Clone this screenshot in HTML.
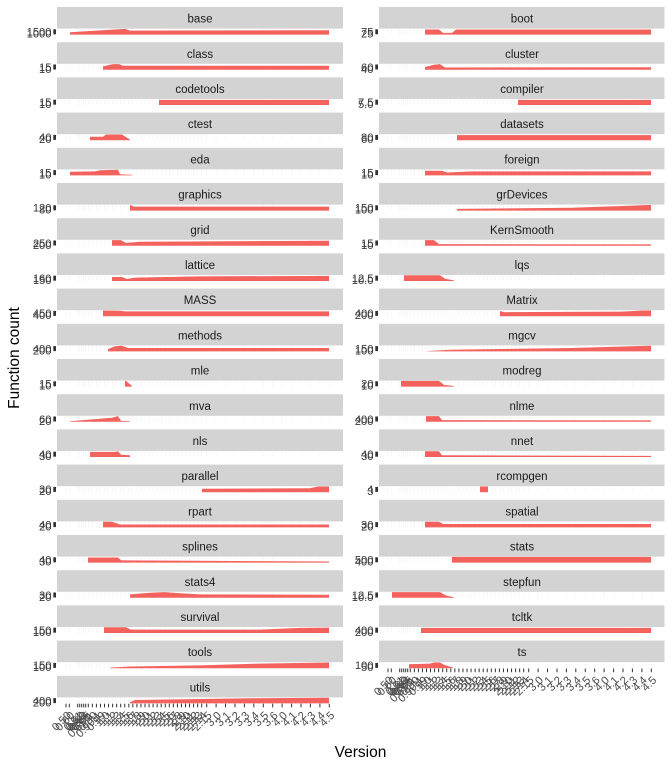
<!DOCTYPE html>
<html><head><meta charset="utf-8"><style>
html,body{margin:0;padding:0;background:#fff}
svg{display:block}
text{font-family:"Liberation Sans",Arial,sans-serif}
.s{fill:#D3D3D3}
.st{font-size:11.5px;fill:#1A1A1A;text-anchor:middle}
.yl{font-size:11.2px;fill:#3A3A3A;text-anchor:end}
.xl{font-size:11.2px;fill:#4D4D4D;text-anchor:end}
.a{fill:#F3625D}
.tk{fill:#333}
.gl{stroke:#F3F3F3;stroke-width:0.6;fill:none}
.xt{stroke:#333;stroke-width:1;fill:none}
.ti{font-size:15.5px;fill:#000}
</style></head><body>
<svg width="672" height="768" viewBox="0 0 672 768" xmlns="http://www.w3.org/2000/svg">
<defs>
<path id="gl" class="gl" d="M66 21.6v6.3M69.3 21.6v6.3M77.7 21.6v6.3M79.7 21.6v6.3M81.7 21.6v6.3M83.7 21.6v6.3M85.7 21.6v6.3M88.3 21.6v6.3M92.35 21.6v6.3M96.4 21.6v6.3M100.45 21.6v6.3M104.5 21.6v6.3M108.55 21.6v6.3M112.6 21.6v6.3M116.65 21.6v6.3M120.7 21.6v6.3M124.75 21.6v6.3M128.8 21.6v6.3M132.85 21.6v6.3M136.9 21.6v6.3M140.95 21.6v6.3M145 21.6v6.3M149.05 21.6v6.3M153.1 21.6v6.3M157.15 21.6v6.3M161.2 21.6v6.3M165.25 21.6v6.3M169.3 21.6v6.3M173.35 21.6v6.3M177.4 21.6v6.3M181.45 21.6v6.3M185.5 21.6v6.3M189.55 21.6v6.3M193.6 21.6v6.3M197.65 21.6v6.3M201.7 21.6v6.3M206.7 21.6v6.3M216.1 21.6v6.3M225.5 21.6v6.3M235 21.6v6.3M244.4 21.6v6.3M253.8 21.6v6.3M263.3 21.6v6.3M272.7 21.6v6.3M282.1 21.6v6.3M291.6 21.6v6.3M301 21.6v6.3M310.4 21.6v6.3M319.9 21.6v6.3M329.3 21.6v6.3"/>
<path id="xt" class="xt" d="M66 27.9v3.7M69.3 27.9v3.7M77.7 27.9v3.7M79.7 27.9v3.7M81.7 27.9v3.7M83.7 27.9v3.7M85.7 27.9v3.7M88.3 27.9v3.7M92.35 27.9v3.7M96.4 27.9v3.7M100.45 27.9v3.7M104.5 27.9v3.7M108.55 27.9v3.7M112.6 27.9v3.7M116.65 27.9v3.7M120.7 27.9v3.7M124.75 27.9v3.7M128.8 27.9v3.7M132.85 27.9v3.7M136.9 27.9v3.7M140.95 27.9v3.7M145 27.9v3.7M149.05 27.9v3.7M153.1 27.9v3.7M157.15 27.9v3.7M161.2 27.9v3.7M165.25 27.9v3.7M169.3 27.9v3.7M173.35 27.9v3.7M177.4 27.9v3.7M181.45 27.9v3.7M185.5 27.9v3.7M189.55 27.9v3.7M193.6 27.9v3.7M197.65 27.9v3.7M201.7 27.9v3.7M206.7 27.9v3.7M216.1 27.9v3.7M225.5 27.9v3.7M235 27.9v3.7M244.4 27.9v3.7M253.8 27.9v3.7M263.3 27.9v3.7M272.7 27.9v3.7M282.1 27.9v3.7M291.6 27.9v3.7M301 27.9v3.7M310.4 27.9v3.7M319.9 27.9v3.7M329.3 27.9v3.7"/>
</defs>

<!-- LEFT COLUMN -->
<g transform="translate(0,7)"><rect class="s" x="57" width="286" height="21.6"/><text class="st" x="200" y="15.6">base</text><use href="#gl"/><rect class="tk" x="53.3" y="22.3" width="2.7" height="5"/><text class="yl" x="51.5" y="28.6">1500</text><text class="yl" x="51.5" y="30.6">1000</text><polygon class="a" points="70,27.6 70,25.3 125,21.9 130,23.6 329,23.3 329,27.6"/></g>
<g transform="translate(0,42.2)"><rect class="s" x="57" width="286" height="21.6"/><text class="st" x="200" y="15.6">class</text><use href="#gl"/><rect class="tk" x="53.3" y="22.3" width="2.7" height="5"/><text class="yl" x="51.5" y="28.6">15</text><text class="yl" x="51.5" y="30.6">10</text><polygon class="a" points="103,27.6 103,24.2 113,21.9 119,21.9 123,23.6 329,23.6 329,27.6"/></g>
<g transform="translate(0,77.4)"><rect class="s" x="57" width="286" height="21.6"/><text class="st" x="200" y="15.6">codetools</text><use href="#gl"/><rect class="tk" x="53.3" y="22.3" width="2.7" height="5"/><text class="yl" x="51.5" y="28.6">15</text><text class="yl" x="51.5" y="30.6">10</text><polygon class="a" points="159,27.6 159,22.5 329,22.5 329,27.6"/></g>
<g transform="translate(0,112.6)"><rect class="s" x="57" width="286" height="21.6"/><text class="st" x="200" y="15.6">ctest</text><use href="#gl"/><rect class="tk" x="53.3" y="22.3" width="2.7" height="5"/><text class="yl" x="51.5" y="28.6">40</text><text class="yl" x="51.5" y="30.6">20</text><polygon class="a" points="90,27.6 90,24.2 103,24.2 106,21.9 122,21.9 130,27 130,27.6"/></g>
<g transform="translate(0,147.8)"><rect class="s" x="57" width="286" height="21.6"/><text class="st" x="200" y="15.6">eda</text><use href="#gl"/><rect class="tk" x="53.3" y="22.3" width="2.7" height="5"/><text class="yl" x="51.5" y="28.6">15</text><text class="yl" x="51.5" y="30.6">10</text><polygon class="a" points="70,27.6 70,23.9 95,23.6 100,22.5 118,21.9 120,26.5 132,27 132,27.6"/></g>
<g transform="translate(0,183)"><rect class="s" x="57" width="286" height="21.6"/><text class="st" x="200" y="15.6">graphics</text><use href="#gl"/><rect class="tk" x="53.3" y="22.3" width="2.7" height="5"/><text class="yl" x="51.5" y="28.6">120</text><text class="yl" x="51.5" y="30.6">80</text><polygon class="a" points="130,27.6 130,21.9 134,23.6 329,23.6 329,27.6"/></g>
<g transform="translate(0,218.2)"><rect class="s" x="57" width="286" height="21.6"/><text class="st" x="200" y="15.6">grid</text><use href="#gl"/><rect class="tk" x="53.3" y="22.3" width="2.7" height="5"/><text class="yl" x="51.5" y="28.6">250</text><text class="yl" x="51.5" y="30.6">200</text><polygon class="a" points="112,27.6 112,21.9 121,21.9 126,24.75 140,23.6 329,22.5 329,27.6"/></g>
<g transform="translate(0,253.4)"><rect class="s" x="57" width="286" height="21.6"/><text class="st" x="200" y="15.6">lattice</text><use href="#gl"/><rect class="tk" x="53.3" y="22.3" width="2.7" height="5"/><text class="yl" x="51.5" y="28.6">160</text><text class="yl" x="51.5" y="30.6">150</text><polygon class="a" points="112,27.6 112,23.6 122,23.6 127,25.6 135,24.2 200,23 329,22.5 329,27.6"/></g>
<g transform="translate(0,288.6)"><rect class="s" x="57" width="286" height="21.6"/><text class="st" x="200" y="15.6">MASS</text><use href="#gl"/><rect class="tk" x="53.3" y="22.3" width="2.7" height="5"/><text class="yl" x="51.5" y="28.6">450</text><text class="yl" x="51.5" y="30.6">400</text><polygon class="a" points="103,27.6 103,21.9 120,22.2 125,22.8 329,22.8 329,27.6"/></g>
<g transform="translate(0,323.8)"><rect class="s" x="57" width="286" height="21.6"/><text class="st" x="200" y="15.6">methods</text><use href="#gl"/><rect class="tk" x="53.3" y="22.3" width="2.7" height="5"/><text class="yl" x="51.5" y="28.6">400</text><text class="yl" x="51.5" y="30.6">200</text><polygon class="a" points="108,27.6 108,25.3 115,22.5 122,21.9 128,24.2 329,24.2 329,27.6"/></g>
<g transform="translate(0,359)"><rect class="s" x="57" width="286" height="21.6"/><text class="st" x="200" y="15.6">mle</text><use href="#gl"/><rect class="tk" x="53.3" y="22.3" width="2.7" height="5"/><text class="yl" x="51.5" y="28.6">15</text><text class="yl" x="51.5" y="30.6">10</text><polygon class="a" points="125,27.6 125,21.9 126,21.9 132,27 132,27.6"/></g>
<g transform="translate(0,394.2)"><rect class="s" x="57" width="286" height="21.6"/><text class="st" x="200" y="15.6">mva</text><use href="#gl"/><rect class="tk" x="53.3" y="22.3" width="2.7" height="5"/><text class="yl" x="51.5" y="28.6">60</text><text class="yl" x="51.5" y="30.6">20</text><polygon class="a" points="70,27.6 70,27 112,23.6 118,21.9 121,26.5 130,27 130,27.6"/></g>
<g transform="translate(0,429.4)"><rect class="s" x="57" width="286" height="21.6"/><text class="st" x="200" y="15.6">nls</text><use href="#gl"/><rect class="tk" x="53.3" y="22.3" width="2.7" height="5"/><text class="yl" x="51.5" y="28.6">40</text><text class="yl" x="51.5" y="30.6">30</text><polygon class="a" points="90,27.6 90,22.5 115,22.5 118,21.9 121,25.3 130,25.9 130,27.6"/></g>
<g transform="translate(0,464.6)"><rect class="s" x="57" width="286" height="21.6"/><text class="st" x="200" y="15.6">parallel</text><use href="#gl"/><rect class="tk" x="53.3" y="22.3" width="2.7" height="5"/><text class="yl" x="51.5" y="28.6">30</text><text class="yl" x="51.5" y="30.6">20</text><polygon class="a" points="202,27.6 202,24.2 310,23.6 318,21.9 329,21.9 329,27.6"/></g>
<g transform="translate(0,499.8)"><rect class="s" x="57" width="286" height="21.6"/><text class="st" x="200" y="15.6">rpart</text><use href="#gl"/><rect class="tk" x="53.3" y="22.3" width="2.7" height="5"/><text class="yl" x="51.5" y="28.6">40</text><text class="yl" x="51.5" y="30.6">20</text><polygon class="a" points="103,27.6 103,21.9 112,21.9 120,24.75 329,24.75 329,27.6"/></g>
<g transform="translate(0,535)"><rect class="s" x="57" width="286" height="21.6"/><text class="st" x="200" y="15.6">splines</text><use href="#gl"/><rect class="tk" x="53.3" y="22.3" width="2.7" height="5"/><text class="yl" x="51.5" y="28.6">40</text><text class="yl" x="51.5" y="30.6">30</text><polygon class="a" points="88,27.6 88,22.5 118,22.5 121,25.3 329,26.5 329,27.6"/></g>
<g transform="translate(0,570.2)"><rect class="s" x="57" width="286" height="21.6"/><text class="st" x="200" y="15.6">stats4</text><use href="#gl"/><rect class="tk" x="53.3" y="22.3" width="2.7" height="5"/><text class="yl" x="51.5" y="28.6">30</text><text class="yl" x="51.5" y="30.6">20</text><polygon class="a" points="130,27.6 130,24.2 150,22.5 165,21.9 180,23 200,24.2 329,24.5 329,27.6"/></g>
<g transform="translate(0,605.4)"><rect class="s" x="57" width="286" height="21.6"/><text class="st" x="200" y="15.6">survival</text><use href="#gl"/><rect class="tk" x="53.3" y="22.3" width="2.7" height="5"/><text class="yl" x="51.5" y="28.6">150</text><text class="yl" x="51.5" y="30.6">100</text><polygon class="a" points="104,27.6 104,21.9 126,21.9 131,24.2 260,24.2 300,22.5 329,22.2 329,27.6"/></g>
<g transform="translate(0,640.6)"><rect class="s" x="57" width="286" height="21.6"/><text class="st" x="200" y="15.6">tools</text><use href="#gl"/><rect class="tk" x="53.3" y="22.3" width="2.7" height="5"/><text class="yl" x="51.5" y="28.6">150</text><text class="yl" x="51.5" y="30.6">100</text><polygon class="a" points="110,27.6 110,27 130,25.9 200,24.75 260,23 329,21.9 329,27.6"/></g>
<g transform="translate(0,675.8)"><rect class="s" x="57" width="286" height="21.6"/><text class="st" x="200" y="15.6">utils</text><use href="#gl"/><rect class="tk" x="53.3" y="22.3" width="2.7" height="5"/><text class="yl" x="51.5" y="28.6">400</text><text class="yl" x="51.5" y="30.6">200</text><polygon class="a" points="130,27.6 130,26.5 135,24.2 250,22.5 329,21.9 329,27.6"/></g>

<!-- RIGHT COLUMN -->
<g transform="translate(322,7)"><rect class="s" x="57" width="285.5" height="21.6"/><text class="st" x="200" y="15.6">boot</text><use href="#gl"/><rect class="tk" x="53.3" y="22.3" width="2.7" height="5"/><text class="yl" x="51.5" y="28.6">75</text><text class="yl" x="51.5" y="30.6">25</text><polygon class="a" points="103,27.6 103,22.5 117,22.5 121,25.9 130,25.9 134,22.5 329,22.5 329,27.6"/></g>
<g transform="translate(322,42.2)"><rect class="s" x="57" width="285.5" height="21.6"/><text class="st" x="200" y="15.6">cluster</text><use href="#gl"/><rect class="tk" x="53.3" y="22.3" width="2.7" height="5"/><text class="yl" x="51.5" y="28.6">60</text><text class="yl" x="51.5" y="30.6">40</text><polygon class="a" points="103,27.6 103,24.75 112,22.5 118,21.9 123,25.3 329,25 329,27.6"/></g>
<g transform="translate(322,77.4)"><rect class="s" x="57" width="285.5" height="21.6"/><text class="st" x="200" y="15.6">compiler</text><use href="#gl"/><rect class="tk" x="53.3" y="22.3" width="2.7" height="5"/><text class="yl" x="51.5" y="28.6">7.5</text><text class="yl" x="51.5" y="30.6">5.0</text><polygon class="a" points="196,27.6 196,22.5 329,22.5 329,27.6"/></g>
<g transform="translate(322,112.6)"><rect class="s" x="57" width="285.5" height="21.6"/><text class="st" x="200" y="15.6">datasets</text><use href="#gl"/><rect class="tk" x="53.3" y="22.3" width="2.7" height="5"/><text class="yl" x="51.5" y="28.6">80</text><text class="yl" x="51.5" y="30.6">60</text><polygon class="a" points="135,27.6 135,22.5 329,22.5 329,27.6"/></g>
<g transform="translate(322,147.8)"><rect class="s" x="57" width="285.5" height="21.6"/><text class="st" x="200" y="15.6">foreign</text><use href="#gl"/><rect class="tk" x="53.3" y="22.3" width="2.7" height="5"/><text class="yl" x="51.5" y="28.6">15</text><text class="yl" x="51.5" y="30.6">10</text><polygon class="a" points="103,27.6 103,23 120,23 125,24.75 150,23.6 329,23.6 329,27.6"/></g>
<g transform="translate(322,183)"><rect class="s" x="57" width="285.5" height="21.6"/><text class="st" x="200" y="15.6">grDevices</text><use href="#gl"/><rect class="tk" x="53.3" y="22.3" width="2.7" height="5"/><text class="yl" x="51.5" y="28.6">150</text><text class="yl" x="51.5" y="30.6">100</text><polygon class="a" points="135,27.6 135,25.9 250,24.75 329,21.9 329,27.6"/></g>
<g transform="translate(322,218.2)"><rect class="s" x="57" width="285.5" height="21.6"/><text class="st" x="200" y="15.6">KernSmooth</text><use href="#gl"/><rect class="tk" x="53.3" y="22.3" width="2.7" height="5"/><text class="yl" x="51.5" y="28.6">15</text><text class="yl" x="51.5" y="30.6">10</text><polygon class="a" points="103,27.6 103,21.9 112,21.9 117,25.9 329,26.2 329,27.6"/></g>
<g transform="translate(322,253.4)"><rect class="s" x="57" width="285.5" height="21.6"/><text class="st" x="200" y="15.6">lqs</text><use href="#gl"/><rect class="tk" x="53.3" y="22.3" width="2.7" height="5"/><text class="yl" x="51.5" y="28.6">12.5</text><text class="yl" x="51.5" y="30.6">10.0</text><polygon class="a" points="82,27.6 82,21.9 118,21.9 123,25.3 132,27 132,27.6"/></g>
<g transform="translate(322,288.6)"><rect class="s" x="57" width="285.5" height="21.6"/><text class="st" x="200" y="15.6">Matrix</text><use href="#gl"/><rect class="tk" x="53.3" y="22.3" width="2.7" height="5"/><text class="yl" x="51.5" y="28.6">400</text><text class="yl" x="51.5" y="30.6">200</text><polygon class="a" points="178,27.6 178,22.5 183,23.6 300,23 320,21.9 329,21.9 329,27.6"/></g>
<g transform="translate(322,323.8)"><rect class="s" x="57" width="285.5" height="21.6"/><text class="st" x="200" y="15.6">mgcv</text><use href="#gl"/><rect class="tk" x="53.3" y="22.3" width="2.7" height="5"/><text class="yl" x="51.5" y="28.6">150</text><text class="yl" x="51.5" y="30.6">100</text><polygon class="a" points="105,27.6 105,27.3 128,25.9 250,24.2 329,21.9 329,27.6"/></g>
<g transform="translate(322,359)"><rect class="s" x="57" width="285.5" height="21.6"/><text class="st" x="200" y="15.6">modreg</text><use href="#gl"/><rect class="tk" x="53.3" y="22.3" width="2.7" height="5"/><text class="yl" x="51.5" y="28.6">20</text><text class="yl" x="51.5" y="30.6">10</text><polygon class="a" points="79,27.6 79,21.9 117,21.9 122,25.9 132,27 132,27.6"/></g>
<g transform="translate(322,394.2)"><rect class="s" x="57" width="285.5" height="21.6"/><text class="st" x="200" y="15.6">nlme</text><use href="#gl"/><rect class="tk" x="53.3" y="22.3" width="2.7" height="5"/><text class="yl" x="51.5" y="28.6">400</text><text class="yl" x="51.5" y="30.6">200</text><polygon class="a" points="104,27.6 104,21.9 117,21.9 120,25.9 329,26.2 329,27.6"/></g>
<g transform="translate(322,429.4)"><rect class="s" x="57" width="285.5" height="21.6"/><text class="st" x="200" y="15.6">nnet</text><use href="#gl"/><rect class="tk" x="53.3" y="22.3" width="2.7" height="5"/><text class="yl" x="51.5" y="28.6">40</text><text class="yl" x="51.5" y="30.6">30</text><polygon class="a" points="103,27.6 103,21.9 117,21.9 120,25.9 329,26.5 329,27.6"/></g>
<g transform="translate(322,464.6)"><rect class="s" x="57" width="285.5" height="21.6"/><text class="st" x="200" y="15.6">rcompgen</text><use href="#gl"/><rect class="tk" x="53.3" y="22.3" width="2.7" height="5"/><text class="yl" x="51.5" y="28.6">4</text><text class="yl" x="51.5" y="30.6">3</text><polygon class="a" points="158,27.6 158,21.9 166,21.9 166,27.6"/></g>
<g transform="translate(322,499.8)"><rect class="s" x="57" width="285.5" height="21.6"/><text class="st" x="200" y="15.6">spatial</text><use href="#gl"/><rect class="tk" x="53.3" y="22.3" width="2.7" height="5"/><text class="yl" x="51.5" y="28.6">30</text><text class="yl" x="51.5" y="30.6">20</text><polygon class="a" points="103,27.6 103,21.9 117,21.9 121,24.2 329,24.2 329,27.6"/></g>
<g transform="translate(322,535)"><rect class="s" x="57" width="285.5" height="21.6"/><text class="st" x="200" y="15.6">stats</text><use href="#gl"/><rect class="tk" x="53.3" y="22.3" width="2.7" height="5"/><text class="yl" x="51.5" y="28.6">500</text><text class="yl" x="51.5" y="30.6">400</text><polygon class="a" points="130,27.6 130,21.9 329,21.9 329,27.6"/></g>
<g transform="translate(322,570.2)"><rect class="s" x="57" width="285.5" height="21.6"/><text class="st" x="200" y="15.6">stepfun</text><use href="#gl"/><rect class="tk" x="53.3" y="22.3" width="2.7" height="5"/><text class="yl" x="51.5" y="28.6">12.5</text><text class="yl" x="51.5" y="30.6">10.0</text><polygon class="a" points="70,27.6 70,21.9 118,21.9 124,25.3 132,27 132,27.6"/></g>
<g transform="translate(322,605.4)"><rect class="s" x="57" width="285.5" height="21.6"/><text class="st" x="200" y="15.6">tcltk</text><use href="#gl"/><rect class="tk" x="53.3" y="22.3" width="2.7" height="5"/><text class="yl" x="51.5" y="28.6">400</text><text class="yl" x="51.5" y="30.6">200</text><polygon class="a" points="99,27.6 99,22.5 329,22.5 329,27.6"/></g>
<g transform="translate(322,640.6)"><rect class="s" x="57" width="285.5" height="21.6"/><text class="st" x="200" y="15.6">ts</text><use href="#gl"/><rect class="tk" x="53.3" y="22.3" width="2.7" height="5"/><text class="yl" x="51.5" y="28.6">100</text><text class="yl" x="51.5" y="30.6">50</text><polygon class="a" points="87,27.6 87,23.6 108,23 112,21.9 118,21.9 122,24.2 131,27 131,27.6"/></g>

<!-- X AXIS LEFT (under utils) -->
<g transform="translate(0,675.8)">
<use href="#xt"/>
<text class="xl" transform="translate(66 34.5) rotate(-45)" y="8.2">0.50</text>
<text class="xl" transform="translate(69.3 34.5) rotate(-45)" y="8.2">0.60</text>
<text class="xl" transform="translate(77.7 34.5) rotate(-45)" y="8.2">0.61</text>
<text class="xl" transform="translate(79.7 34.5) rotate(-45)" y="8.2">0.62</text>
<text class="xl" transform="translate(81.7 34.5) rotate(-45)" y="8.2">0.63</text>
<text class="xl" transform="translate(83.7 34.5) rotate(-45)" y="8.2">0.64</text>
<text class="xl" transform="translate(85.7 34.5) rotate(-45)" y="8.2">0.65</text>
<text class="xl" transform="translate(88.3 34.5) rotate(-45)" y="8.2">0.65.1</text>
<text class="xl" transform="translate(92.35 34.5) rotate(-45)" y="8.2">0.90</text>
<text class="xl" transform="translate(96.4 34.5) rotate(-45)" y="8.2">0.90.1</text>
<text class="xl" transform="translate(100.45 34.5) rotate(-45)" y="8.2">0.99</text>
<text class="xl" transform="translate(104.5 34.5) rotate(-45)" y="8.2">1.0</text>
<text class="xl" transform="translate(108.55 34.5) rotate(-45)" y="8.2">1.1</text>
<text class="xl" transform="translate(112.6 34.5) rotate(-45)" y="8.2">1.2</text>
<text class="xl" transform="translate(116.65 34.5) rotate(-45)" y="8.2">1.3</text>
<text class="xl" transform="translate(120.7 34.5) rotate(-45)" y="8.2">1.4</text>
<text class="xl" transform="translate(124.75 34.5) rotate(-45)" y="8.2">1.5</text>
<text class="xl" transform="translate(128.8 34.5) rotate(-45)" y="8.2">1.6</text>
<text class="xl" transform="translate(132.85 34.5) rotate(-45)" y="8.2">1.7</text>
<text class="xl" transform="translate(136.9 34.5) rotate(-45)" y="8.2">1.8</text>
<text class="xl" transform="translate(140.95 34.5) rotate(-45)" y="8.2">1.9</text>
<text class="xl" transform="translate(145 34.5) rotate(-45)" y="8.2">2.0</text>
<text class="xl" transform="translate(149.05 34.5) rotate(-45)" y="8.2">2.1</text>
<text class="xl" transform="translate(153.1 34.5) rotate(-45)" y="8.2">2.2</text>
<text class="xl" transform="translate(157.15 34.5) rotate(-45)" y="8.2">2.3</text>
<text class="xl" transform="translate(161.2 34.5) rotate(-45)" y="8.2">2.4</text>
<text class="xl" transform="translate(165.25 34.5) rotate(-45)" y="8.2">2.5</text>
<text class="xl" transform="translate(169.3 34.5) rotate(-45)" y="8.2">2.6</text>
<text class="xl" transform="translate(173.35 34.5) rotate(-45)" y="8.2">2.7</text>
<text class="xl" transform="translate(177.4 34.5) rotate(-45)" y="8.2">2.8</text>
<text class="xl" transform="translate(181.45 34.5) rotate(-45)" y="8.2">2.9</text>
<text class="xl" transform="translate(185.5 34.5) rotate(-45)" y="8.2">2.10</text>
<text class="xl" transform="translate(189.55 34.5) rotate(-45)" y="8.2">2.11</text>
<text class="xl" transform="translate(193.6 34.5) rotate(-45)" y="8.2">2.12</text>
<text class="xl" transform="translate(197.65 34.5) rotate(-45)" y="8.2">2.13</text>
<text class="xl" transform="translate(201.7 34.5) rotate(-45)" y="8.2">2.14</text>
<text class="xl" transform="translate(206.7 34.5) rotate(-45)" y="8.2">2.15</text>
<text class="xl" transform="translate(216.1 34.5) rotate(-45)" y="8.2">3.0</text>
<text class="xl" transform="translate(225.5 34.5) rotate(-45)" y="8.2">3.1</text>
<text class="xl" transform="translate(235 34.5) rotate(-45)" y="8.2">3.2</text>
<text class="xl" transform="translate(244.4 34.5) rotate(-45)" y="8.2">3.3</text>
<text class="xl" transform="translate(253.8 34.5) rotate(-45)" y="8.2">3.4</text>
<text class="xl" transform="translate(263.3 34.5) rotate(-45)" y="8.2">3.5</text>
<text class="xl" transform="translate(272.7 34.5) rotate(-45)" y="8.2">3.6</text>
<text class="xl" transform="translate(282.1 34.5) rotate(-45)" y="8.2">4.0</text>
<text class="xl" transform="translate(291.6 34.5) rotate(-45)" y="8.2">4.1</text>
<text class="xl" transform="translate(301 34.5) rotate(-45)" y="8.2">4.2</text>
<text class="xl" transform="translate(310.4 34.5) rotate(-45)" y="8.2">4.3</text>
<text class="xl" transform="translate(319.9 34.5) rotate(-45)" y="8.2">4.4</text>
<text class="xl" transform="translate(329.3 34.5) rotate(-45)" y="8.2">4.5</text>
</g>

<!-- X AXIS RIGHT (under ts) -->
<g transform="translate(322,640.6)">
<use href="#xt"/>
<text class="xl" transform="translate(66 34.5) rotate(-45)" y="8.2">0.50</text>
<text class="xl" transform="translate(69.3 34.5) rotate(-45)" y="8.2">0.60</text>
<text class="xl" transform="translate(77.7 34.5) rotate(-45)" y="8.2">0.61</text>
<text class="xl" transform="translate(79.7 34.5) rotate(-45)" y="8.2">0.62</text>
<text class="xl" transform="translate(81.7 34.5) rotate(-45)" y="8.2">0.63</text>
<text class="xl" transform="translate(83.7 34.5) rotate(-45)" y="8.2">0.64</text>
<text class="xl" transform="translate(85.7 34.5) rotate(-45)" y="8.2">0.65</text>
<text class="xl" transform="translate(88.3 34.5) rotate(-45)" y="8.2">0.65.1</text>
<text class="xl" transform="translate(92.35 34.5) rotate(-45)" y="8.2">0.90</text>
<text class="xl" transform="translate(96.4 34.5) rotate(-45)" y="8.2">0.90.1</text>
<text class="xl" transform="translate(100.45 34.5) rotate(-45)" y="8.2">0.99</text>
<text class="xl" transform="translate(104.5 34.5) rotate(-45)" y="8.2">1.0</text>
<text class="xl" transform="translate(108.55 34.5) rotate(-45)" y="8.2">1.1</text>
<text class="xl" transform="translate(112.6 34.5) rotate(-45)" y="8.2">1.2</text>
<text class="xl" transform="translate(116.65 34.5) rotate(-45)" y="8.2">1.3</text>
<text class="xl" transform="translate(120.7 34.5) rotate(-45)" y="8.2">1.4</text>
<text class="xl" transform="translate(124.75 34.5) rotate(-45)" y="8.2">1.5</text>
<text class="xl" transform="translate(128.8 34.5) rotate(-45)" y="8.2">1.6</text>
<text class="xl" transform="translate(132.85 34.5) rotate(-45)" y="8.2">1.7</text>
<text class="xl" transform="translate(136.9 34.5) rotate(-45)" y="8.2">1.8</text>
<text class="xl" transform="translate(140.95 34.5) rotate(-45)" y="8.2">1.9</text>
<text class="xl" transform="translate(145 34.5) rotate(-45)" y="8.2">2.0</text>
<text class="xl" transform="translate(149.05 34.5) rotate(-45)" y="8.2">2.1</text>
<text class="xl" transform="translate(153.1 34.5) rotate(-45)" y="8.2">2.2</text>
<text class="xl" transform="translate(157.15 34.5) rotate(-45)" y="8.2">2.3</text>
<text class="xl" transform="translate(161.2 34.5) rotate(-45)" y="8.2">2.4</text>
<text class="xl" transform="translate(165.25 34.5) rotate(-45)" y="8.2">2.5</text>
<text class="xl" transform="translate(169.3 34.5) rotate(-45)" y="8.2">2.6</text>
<text class="xl" transform="translate(173.35 34.5) rotate(-45)" y="8.2">2.7</text>
<text class="xl" transform="translate(177.4 34.5) rotate(-45)" y="8.2">2.8</text>
<text class="xl" transform="translate(181.45 34.5) rotate(-45)" y="8.2">2.9</text>
<text class="xl" transform="translate(185.5 34.5) rotate(-45)" y="8.2">2.10</text>
<text class="xl" transform="translate(189.55 34.5) rotate(-45)" y="8.2">2.11</text>
<text class="xl" transform="translate(193.6 34.5) rotate(-45)" y="8.2">2.12</text>
<text class="xl" transform="translate(197.65 34.5) rotate(-45)" y="8.2">2.13</text>
<text class="xl" transform="translate(201.7 34.5) rotate(-45)" y="8.2">2.14</text>
<text class="xl" transform="translate(206.7 34.5) rotate(-45)" y="8.2">2.15</text>
<text class="xl" transform="translate(216.1 34.5) rotate(-45)" y="8.2">3.0</text>
<text class="xl" transform="translate(225.5 34.5) rotate(-45)" y="8.2">3.1</text>
<text class="xl" transform="translate(235 34.5) rotate(-45)" y="8.2">3.2</text>
<text class="xl" transform="translate(244.4 34.5) rotate(-45)" y="8.2">3.3</text>
<text class="xl" transform="translate(253.8 34.5) rotate(-45)" y="8.2">3.4</text>
<text class="xl" transform="translate(263.3 34.5) rotate(-45)" y="8.2">3.5</text>
<text class="xl" transform="translate(272.7 34.5) rotate(-45)" y="8.2">3.6</text>
<text class="xl" transform="translate(282.1 34.5) rotate(-45)" y="8.2">4.0</text>
<text class="xl" transform="translate(291.6 34.5) rotate(-45)" y="8.2">4.1</text>
<text class="xl" transform="translate(301 34.5) rotate(-45)" y="8.2">4.2</text>
<text class="xl" transform="translate(310.4 34.5) rotate(-45)" y="8.2">4.3</text>
<text class="xl" transform="translate(319.9 34.5) rotate(-45)" y="8.2">4.4</text>
<text class="xl" transform="translate(329.3 34.5) rotate(-45)" y="8.2">4.5</text>
</g>

<!-- AXIS TITLES -->
<text class="ti" x="360.5" y="757" text-anchor="middle">Version</text>
<text class="ti" transform="translate(19,358) rotate(-90)" text-anchor="middle">Function count</text>
</svg>
</body></html>
